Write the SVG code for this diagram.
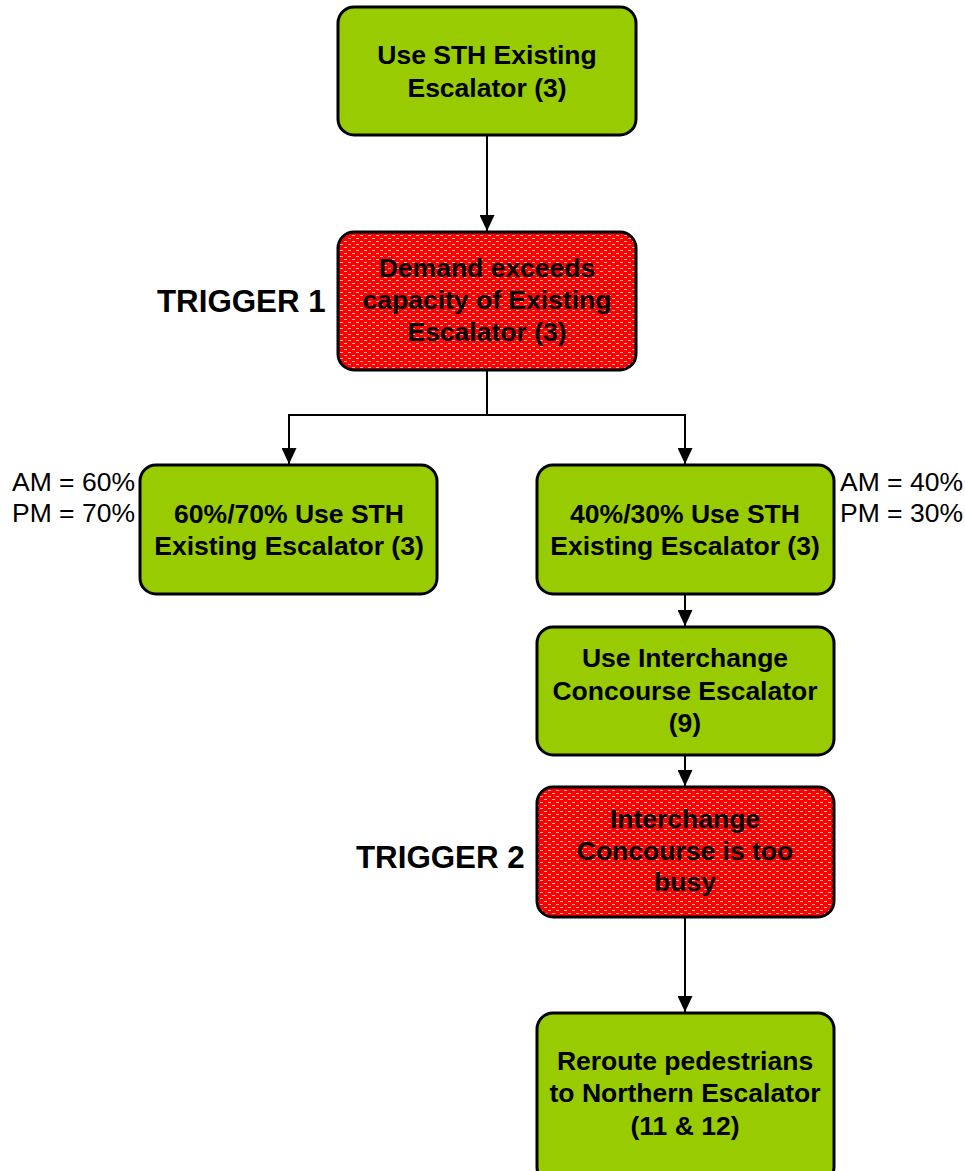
<svg xmlns="http://www.w3.org/2000/svg" width="965" height="1171" viewBox="0 0 965 1171">
<style>
.box{stroke:#000;stroke-width:3}
.g{fill:#99CC00}
.r{fill:url(#redpat)}
.t{font-family:"Liberation Sans",Arial,sans-serif;font-weight:bold;font-size:26.5px;text-anchor:middle;fill:#000}
.trig{font-family:"Liberation Sans",Arial,sans-serif;font-weight:bold;font-size:31.3px;fill:#000}
.lbl{font-family:"Liberation Sans",Arial,sans-serif;font-size:26.5px;fill:#000}
.c{fill:none;stroke:#000;stroke-width:2}
</style>
<defs>
<pattern id="redpat" width="8" height="6" patternUnits="userSpaceOnUse">
<rect width="8" height="6" fill="#FF0000"/>
<rect x="0" y="1" width="3" height="1" fill="#FFB0B0"/>
<rect x="4" y="4" width="3" height="1" fill="#FFB0B0"/>
</pattern>
<marker id="ah" viewBox="0 0 16 15" refX="16" refY="7.5" markerWidth="16" markerHeight="15" markerUnits="userSpaceOnUse" orient="auto">
<path d="M0,0 L16,7.5 L0,15 Z" fill="#000"/>
</marker>
</defs>
<rect width="965" height="1171" fill="#fff"/>
<g id="connectors">
<line class="c" x1="487" y1="136" x2="487" y2="231" marker-end="url(#ah)"/>
<polyline class="c" points="487,370 487,415 289,415 289,464" marker-end="url(#ah)"/>
<polyline class="c" points="487,415 685,415 685,464" marker-end="url(#ah)"/>
<line class="c" x1="685" y1="595" x2="685" y2="626" marker-end="url(#ah)"/>
<line class="c" x1="685" y1="755" x2="685" y2="786" marker-end="url(#ah)"/>
<line class="c" x1="685" y1="917" x2="685" y2="1012" marker-end="url(#ah)"/>
</g>
<g id="n1">
<rect class="box g" x="338" y="7" width="298" height="128" rx="16"/>
<text class="t" x="487" y="64">Use STH Existing</text>
<text class="t" x="487" y="97">Escalator (3)</text>
</g>
<g id="n2">
<rect class="box r" x="338" y="232" width="298" height="138" rx="16"/>
<text class="t" x="487" y="277">Demand exceeds</text>
<text class="t" x="487" y="309">capacity of Existing</text>
<text class="t" x="487" y="341">Escalator (3)</text>
</g>
<g id="trigger1"><text class="trig" x="157" y="312">TRIGGER 1</text></g>
<g id="n3">
<rect class="box g" x="140" y="465" width="297" height="129" rx="16"/>
<text class="t" x="289" y="523">60%/70% Use STH</text>
<text class="t" x="289" y="555">Existing Escalator (3)</text>
</g>
<g id="lbl-left">
<text class="lbl" x="12" y="491">AM = 60%</text>
<text class="lbl" x="12" y="522">PM = 70%</text>
</g>
<g id="n4">
<rect class="box g" x="537" y="465" width="297" height="129" rx="16"/>
<text class="t" x="685" y="523">40%/30% Use STH</text>
<text class="t" x="685" y="555">Existing Escalator (3)</text>
</g>
<g id="lbl-right">
<text class="lbl" x="840" y="491">AM = 40%</text>
<text class="lbl" x="840" y="522">PM = 30%</text>
</g>
<g id="n5">
<rect class="box g" x="537" y="627" width="297" height="128" rx="16"/>
<text class="t" x="685" y="667">Use Interchange</text>
<text class="t" x="685" y="700">Concourse Escalator</text>
<text class="t" x="685" y="732">(9)</text>
</g>
<g id="n6">
<rect class="box r" x="537" y="787" width="297" height="130" rx="16"/>
<text class="t" x="685" y="828">Interchange</text>
<text class="t" x="685" y="860">Concourse is too</text>
<text class="t" x="685" y="891">busy</text>
</g>
<g id="trigger2"><text class="trig" x="356" y="868">TRIGGER 2</text></g>
<g id="n7">
<rect class="box g" x="537" y="1013" width="297" height="170" rx="16"/>
<text class="t" x="685" y="1070">Reroute pedestrians</text>
<text class="t" x="685" y="1102">to Northern Escalator</text>
<text class="t" x="685" y="1135">(11 &amp; 12)</text>
</g>
</svg>
